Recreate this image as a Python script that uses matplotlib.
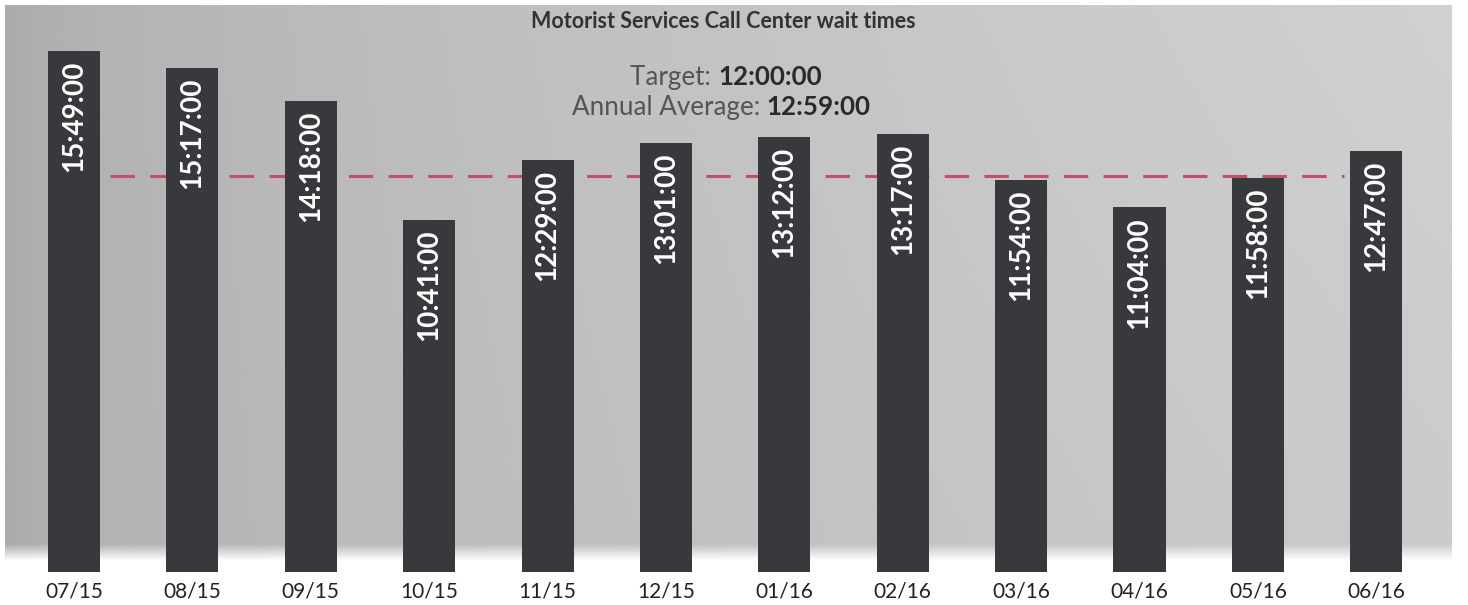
import matplotlib
matplotlib.use("Agg")
import matplotlib.pyplot as plt
import numpy as np

months = ["07/15", "08/15", "09/15", "10/15", "11/15", "12/15",
          "01/16", "02/16", "03/16", "04/16", "05/16", "06/16"]
wait_times = ["15:49:00", "15:17:00", "14:18:00", "10:41:00", "12:29:00", "13:01:00",
              "13:12:00", "13:17:00", "11:54:00", "11:04:00", "11:58:00", "12:47:00"]
target = "12:00:00"
annual_average = "12:59:00"
title = "Motorist Services Call Center wait times"


def to_hours(s):
    h, m, sec = (int(p) for p in s.split(":"))
    return h + m / 60 + sec / 3600


values = [to_hours(v) for v in wait_times]
target_h = to_hours(target)

W, H = 1468, 605
fig = plt.figure(figsize=(W / 100, H / 100), dpi=100)
fig.patch.set_facecolor("white")

# gradient background panel
bg = fig.add_axes([5 / W, (H - 562) / H, (1452 - 5) / W, (562 - 5) / H])
bg.set_axis_off()
nx, ny = 400, 200
xg = np.linspace(0, 1, nx)
t = np.linspace(0, 1, ny)  # 0 = top, 1 = bottom
base = 170 + 32 * np.sqrt(xg)  # darker left, lighter right
img = np.tile(base, (ny, 1)) + 6 * (1 - t)[:, None] * xg[None, :]
bottom_fade = np.clip((1 - t) / 0.03, 0, 1)
img = 255 - (255 - img) * bottom_fade[:, None]
bg.imshow(img, cmap="gray", vmin=0, vmax=255, aspect="auto", origin="upper",
          extent=[0, 1, 0, 1], interpolation="bilinear")
bg.set_xlim(0, 1)
bg.set_ylim(0, 1)

ax = fig.add_axes([5 / W, (H - 572) / H, (1452 - 5) / W, (572 - 5) / H])
ax.patch.set_alpha(0)
x = np.arange(len(months))
ax.bar(x, values, width=0.44, color="#38393c", zorder=3)
ax.set_xlim(-0.583, 11.64)
ax.set_ylim(0, 17.2)

ax.hlines(target_h, 0.30, 10.73, colors="#c24f6c", linewidth=2.2,
          linestyles=(0, (8, 5)), zorder=2)

for xi, v, lab in zip(x, values, wait_times):
    ax.annotate(lab, (xi, v), xytext=(0, -7), textcoords="offset points",
                rotation=90, ha="center", va="top", color="white",
                fontsize=20, fontfamily="Lato", fontweight="bold", zorder=4)

ax.set_xticks(x)
ax.set_xticklabels(months, fontsize=15, fontfamily="Lato", color="#222222")
ax.tick_params(axis="x", length=0, pad=7)
ax.set_yticks([])
for s in ax.spines.values():
    s.set_visible(False)

fig.text(723 / W, 1 - 22 / H, title, ha="center", va="center",
         fontsize=15.5, fontfamily="Lato", fontweight="bold", color="#333333")

renderer = fig.canvas.get_renderer()


def two_part(cx, cy, label, value, size):
    t1 = fig.text(0, cy, label, ha="left", va="center", fontsize=size,
                  fontfamily="Lato", color="#555555")
    t2 = fig.text(0, cy, value, ha="left", va="center", fontsize=size,
                  fontfamily="Lato", fontweight="bold", color="#2a2a2a")
    w1 = t1.get_window_extent(renderer).width / W
    w2 = t2.get_window_extent(renderer).width / W
    x0 = cx - (w1 + w2) / 2
    t1.set_x(x0)
    t2.set_x(x0 + w1)


two_part(726 / W, 1 - 77 / H, "Target: ", target, 18.7)
two_part(721 / W, 1 - 107 / H, "Annual Average: ", annual_average, 18.7)

fig.savefig("out.png", dpi=100)
